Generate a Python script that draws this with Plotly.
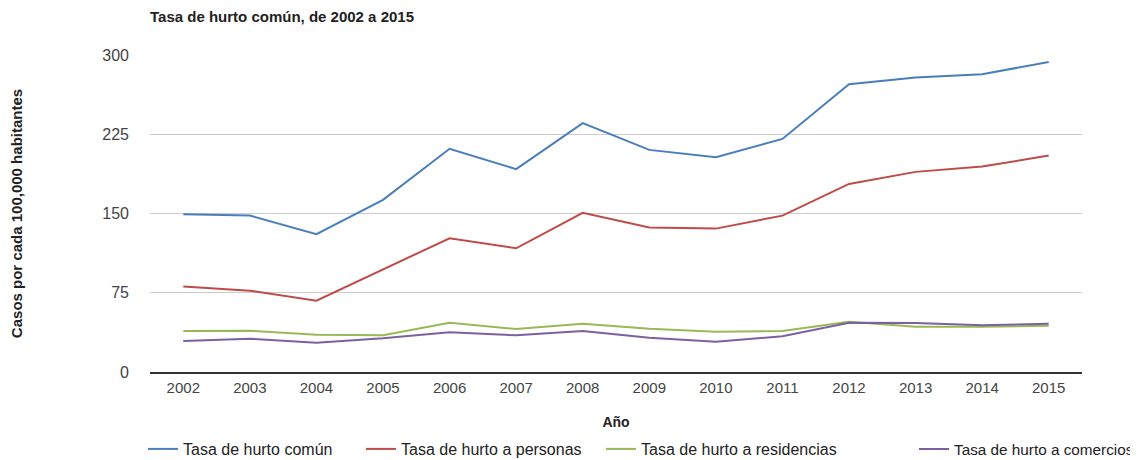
import plotly.graph_objects as go

anios = [str(a) for a in range(2002, 2016)]

hurto_comun = [149.3, 148.0, 130.4, 162.9, 211.2, 192.0, 235.5,
               210.2, 203.3, 220.6, 272.4, 278.7, 281.9, 293.3]
hurto_personas = [80.8, 77.0, 67.5, 97.2, 126.6, 117.1, 150.6,
                  136.7, 135.7, 148.0, 178.0, 189.4, 194.4, 204.8]
hurto_residencias = [38.8, 39.1, 35.3, 34.7, 46.7, 40.7, 45.7,
                     41.0, 38.2, 38.8, 47.6, 42.9, 42.9, 43.8]
hurto_comercios = [29.4, 31.5, 27.7, 31.9, 37.6, 34.7, 38.8,
                   32.5, 28.7, 33.8, 46.7, 46.4, 44.2, 45.7]

y_ticks = [0, 75, 150, 225, 300]

series = [
    ('Tasa de hurto común', hurto_comun, '#4a7ebb', 'legend'),
    ('Tasa de hurto a personas', hurto_personas, '#be4b48', 'legend2'),
    ('Tasa de hurto a residencias', hurto_residencias, '#98b954', 'legend3'),
    ('Tasa de hurto a comercios', hurto_comercios, '#7d60a0', 'legend4'),
]

# the page has an 8px body margin, so the figure is 1130x452
W, H = 1130, 452

fig = go.Figure()

for nombre, valores, color, leg in series:
    fig.add_trace(go.Scatter(
        x=anios,
        y=valores,
        mode='lines',
        name=nombre,
        line=dict(color=color, width=2),
        legend=leg,
    ))


def _leg(px, size=16):
    return dict(
        orientation='h', xref='container', yref='container',
        x=px / W, xanchor='left', y=1 - 441 / H, yanchor='middle',
        font=dict(family='Liberation Sans, Arial, sans-serif', size=size, color='#222222'),
        itemwidth=30, bgcolor='rgba(0,0,0,0)',
    )


fig.update_layout(
    width=W,
    height=H,
    plot_bgcolor='white',
    paper_bgcolor='white',
    font=dict(family='Liberation Sans, Arial, sans-serif', size=13, color='#222222'),
    title=dict(
        text='<b>Tasa de hurto común, de 2002 a 2015</b>',
        x=142 / W, xanchor='left', xref='container',
        y=1 - 9 / H, yanchor='middle', yref='container',
        font=dict(size=15, color='#222222'),
    ),
    margin=dict(l=142, r=56, t=47, b=88, autoexpand=False),
    showlegend=True,
    legend=_leg(135),
    legend2=_leg(353),
    legend3=_leg(593),
    legend4=_leg(906, 15.3),
)

fig.update_xaxes(
    type='category',
    range=[-0.5, 13.5],
    automargin=False,
    showgrid=False,
    showline=True,
    linecolor='#333333',
    linewidth=1.5,
    ticks='',
    ticklabelstandoff=1,
    tickfont=dict(size=15, color='#444444'),
    title=dict(text='<b>Año</b>', font=dict(size=14, color='#222222'), standoff=22),
)

fig.update_yaxes(
    range=[0, 300],
    tickvals=y_ticks,
    automargin=False,
    showgrid=True,
    gridcolor='#cccccc',
    gridwidth=1,
    zeroline=False,
    showline=False,
    ticks='',
    ticklabelstandoff=20,
    tickfont=dict(size=16, color='#444444'),
    title=dict(text='<b>Casos por cada 100,000 habitantes</b>',
               font=dict(size=15, color='#222222'), standoff=79),
)

fig.write_html('out.html')
